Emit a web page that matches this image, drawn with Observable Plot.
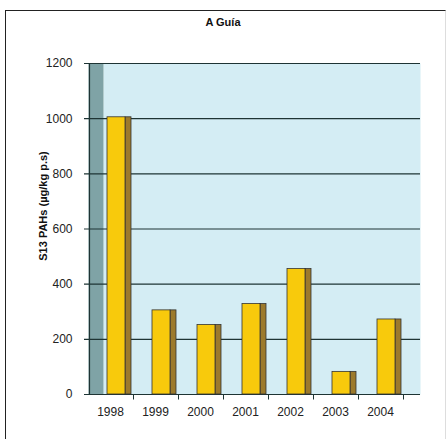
<!DOCTYPE html>
<html><head><meta charset="utf-8">
<script src="https://cdn.jsdelivr.net/npm/d3@7"></script>
<script src="https://cdn.jsdelivr.net/npm/@observablehq/plot@0.6"></script>
<style>
body{margin:0;background:#fff;font-family:"Liberation Sans",Arial,sans-serif;overflow:hidden;}
#wrap{position:relative;width:446px;height:439px;overflow:hidden;}
#border{position:absolute;left:5px;top:10px;width:439px;height:440px;border-top:1.5px solid #222;border-left:1.5px solid #222;border-right:1px solid #ddd;}
#title{position:absolute;left:0;width:446px;top:16px;text-align:center;font-weight:bold;font-size:11px;color:#111;}
#ylab{position:absolute;left:43px;top:206px;transform:translate(-50%,-50%) rotate(-90deg);white-space:nowrap;font-weight:bold;font-size:11px;color:#111;}
#chart{position:absolute;left:0;top:0;}
</style></head><body>
<div id="wrap"><div id="border"></div><div id="chart"></div><div id="title">A Guía</div><div id="ylab">S13 PAHs  (µg/kg p.s)</div></div>
<script>
const years = ["1998","1999","2000","2001","2002","2003","2004"];
const values = [1005, 305, 252, 328, 455, 82, 272];
const yTicks = [0, 200, 400, 600, 800, 1000, 1200];
const data = years.map((y, i) => ({year: y, value: values[i]}));

const plot = Plot.plot({
  width: 446, height: 439,
  marginTop: 63, marginBottom: 45, marginLeft: 88, marginRight: 26,
  style: {fontFamily: "Liberation Sans, Arial, sans-serif", fontSize: "12px", color: "#222", background: "transparent"},
  x: {domain: years, paddingInner: 0.47, paddingOuter: 0.4, label: null},
  y: {domain: [0, 1200], label: null},
  marks: [
    Plot.frame({fill: "#d4edf4", insetLeft: 15}),
    Plot.frame({fill: "#7fa3a6", insetRight: 317}),
    Plot.ruleY(yTicks, {stroke: "#1e3434", strokeWidth: 1.2, insetLeft: -4}),
    Plot.ruleX([0], {x: () => years[0], dx: -30, y1: 0, y2: 1200, stroke: "#1e3434", strokeWidth: 1.2}),
    Plot.ruleX(data, {x: "year", dx: 14, y1: 0, y2: -20, stroke: "#1e3434"}),
    Plot.barY(data, {x: "year", y: "value", fill: "#9c7a2c", stroke: "#333", strokeWidth: 0.8, insetLeft: 18}),
    Plot.barY(data, {x: "year", y: "value", fill: "#f8ca0c", stroke: "#333", strokeWidth: 0.8, insetRight: 6}),
    Plot.axisY({ticks: yTicks, tickSize: 0, tickPadding: 16, tickFormat: d => String(d), label: null}),
    Plot.axisX({tickSize: 0, tickPadding: 13, dx: -9, label: null})
  ]
});
document.getElementById("chart").appendChild(plot);
</script>
</body></html>
